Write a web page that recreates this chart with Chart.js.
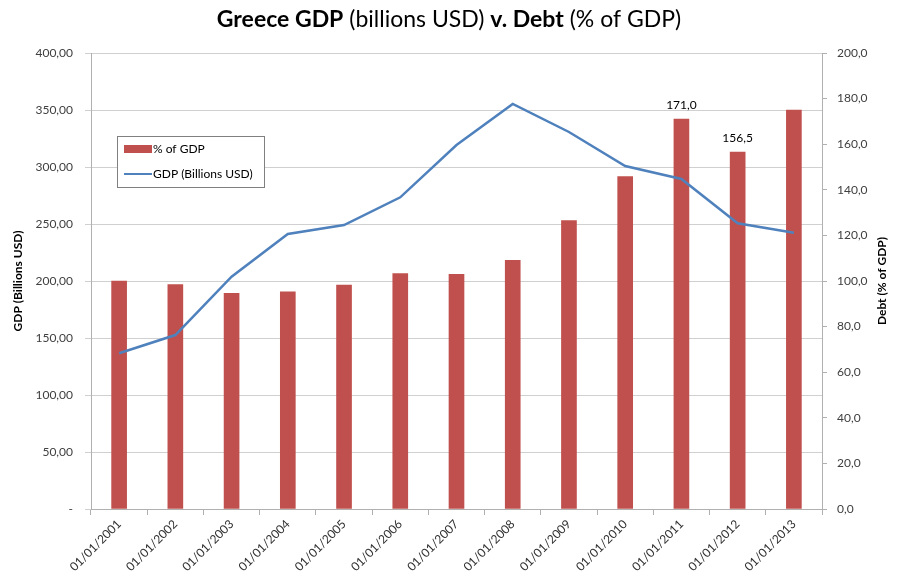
<!DOCTYPE html>
<html>
<head>
<meta charset="utf-8">
<script src="https://cdn.jsdelivr.net/npm/chart.js@4"></script>
<style>
  html, body { margin: 0; padding: 0; background: #fff; }
  #wrap { width: 897px; height: 579px; }
</style>
</head>
<body>
<div id="wrap"><canvas id="greeceChart" width="897" height="579"></canvas></div>
<script>
const years = ['01/01/2001', '01/01/2002', '01/01/2003', '01/01/2004', '01/01/2005', '01/01/2006', '01/01/2007',
    '01/01/2008', '01/01/2009', '01/01/2010', '01/01/2011', '01/01/2012', '01/01/2013'];
const debtPct = [100.0, 98.4, 94.6, 95.2, 98.2, 103.2, 102.9, 109.1, 126.5, 145.8, 171.0, 156.5, 175.0];
const gdpBillions = [136.6, 152.6, 203.8, 241.2, 249.1, 273.4, 319.3, 355.3, 330.7, 300.9, 289.5, 250.6, 242.4];
const debtLabels = [null, null, null, null, null, null, null, null, null, null, '171,0', '156,5', null];

const font = 'Lato, "Open Sans", sans-serif';
const barColor = '#c0504d';
const lineColor = '#4f81bd';

// title with mixed bold / normal parts, right axis title, legend box, value labels
const extras = {
    id: 'extras',
    afterDraw(chart) {
        const ctx = chart.ctx;
        ctx.save();

        const parts = [['Greece GDP', true], [' (billions USD) ', false], ['v. Debt', true], [' (% of GDP)', false]];
        let total = 0;
        parts.forEach(p => {
            ctx.font = (p[1] ? 'bold ' : '') + '23px ' + font;
            total += ctx.measureText(p[0]).width;
        });
        let x = 449 - total / 2;
        ctx.fillStyle = '#000';
        ctx.textBaseline = 'middle';
        ctx.textAlign = 'left';
        parts.forEach(p => {
            ctx.font = (p[1] ? 'bold ' : '') + '23px ' + font;
            ctx.fillText(p[0], x, 20);
            x += ctx.measureText(p[0]).width;
        });

        // right axis title, reading upwards
        const area = chart.chartArea;
        ctx.save();
        ctx.translate(882, (area.top + area.bottom) / 2);
        ctx.rotate(-Math.PI / 2);
        ctx.font = 'bold 12px ' + font;
        ctx.textAlign = 'center';
        ctx.fillText('Debt (% of GDP)', 0, 0);
        ctx.restore();

        // legend
        ctx.fillStyle = '#fff';
        ctx.fillRect(117, 136, 147, 51);
        ctx.strokeStyle = '#808080';
        ctx.lineWidth = 1;
        ctx.strokeRect(117.5, 136.5, 147, 51);
        ctx.fillStyle = barColor;
        ctx.fillRect(124, 145, 28, 8);
        ctx.strokeStyle = lineColor;
        ctx.lineWidth = 2;
        ctx.beginPath();
        ctx.moveTo(124, 174);
        ctx.lineTo(152, 174);
        ctx.stroke();
        ctx.fillStyle = '#000';
        ctx.font = '12px ' + font;
        ctx.fillText('% of GDP', 153, 149);
        ctx.fillText('GDP (Billions USD)', 153, 174);

        // value labels above two bars
        const meta = chart.getDatasetMeta(0);
        ctx.font = '12px ' + font;
        ctx.textAlign = 'center';
        ctx.textBaseline = 'bottom';
        meta.data.forEach((bar, i) => {
            if (debtLabels[i]) ctx.fillText(debtLabels[i], bar.x, bar.y - 8);
        });
        ctx.restore();
    }
};

const ctx = document.getElementById('greeceChart').getContext('2d');
new Chart(ctx, {
    type: 'bar',
    data: {
        labels: years,
        datasets: [{
            type: 'bar',
            label: '% of GDP',
            data: debtPct,
            yAxisID: 'y2',
            backgroundColor: barColor,
            barThickness: 15,
            order: 1
        }, {
            type: 'line',
            label: 'GDP (Billions USD)',
            data: gdpBillions,
            yAxisID: 'y',
            borderColor: lineColor,
            borderWidth: 2.5,
            pointRadius: 0,
            tension: 0,
            order: 0
        }]
    },
    options: {
        responsive: false,
        animation: false,
        layout: {
            padding: { top: 53, left: 7, right: 0, bottom: 0 }
        },
        scales: {
            x: {
                grid: { offset: true, drawOnChartArea: false, tickLength: 6, color: '#b0b0b0' },
                border: { color: '#b0b0b0' },
                ticks: {
                    minRotation: 45, maxRotation: 45, padding: 2,
                    color: '#303030', font: { family: font, size: 12 }
                },
                afterFit(scale) { scale.height = 70; }
            },
            y: {
                position: 'left',
                min: 0, max: 400,
                ticks: {
                    stepSize: 50, padding: 12, color: '#404040', font: { family: font, size: 12 },
                    callback: v => v === 0 ? '-' : v.toFixed(2).replace('.', ',')
                },
                grid: { color: '#d0d0d0', tickLength: 6 },
                border: { color: '#b0b0b0' },
                title: { display: true, text: 'GDP (Billions USD)', color: '#000', font: { family: font, size: 12, weight: 'bold' } },
                afterFit(scale) { scale.width = 84; }
            },
            y2: {
                position: 'right',
                min: 0, max: 200,
                ticks: {
                    stepSize: 20, padding: 10, color: '#404040', font: { family: font, size: 12 },
                    callback: v => v.toFixed(1).replace('.', ',')
                },
                grid: { drawOnChartArea: false, color: '#b0b0b0', tickLength: 5 },
                border: { color: '#b0b0b0' },
                afterFit(scale) { scale.width = 75; }
            }
        },
        plugins: {
            legend: { display: false },
            tooltip: { enabled: false }
        }
    },
    plugins: [extras]
});
</script>
</body>
</html>
